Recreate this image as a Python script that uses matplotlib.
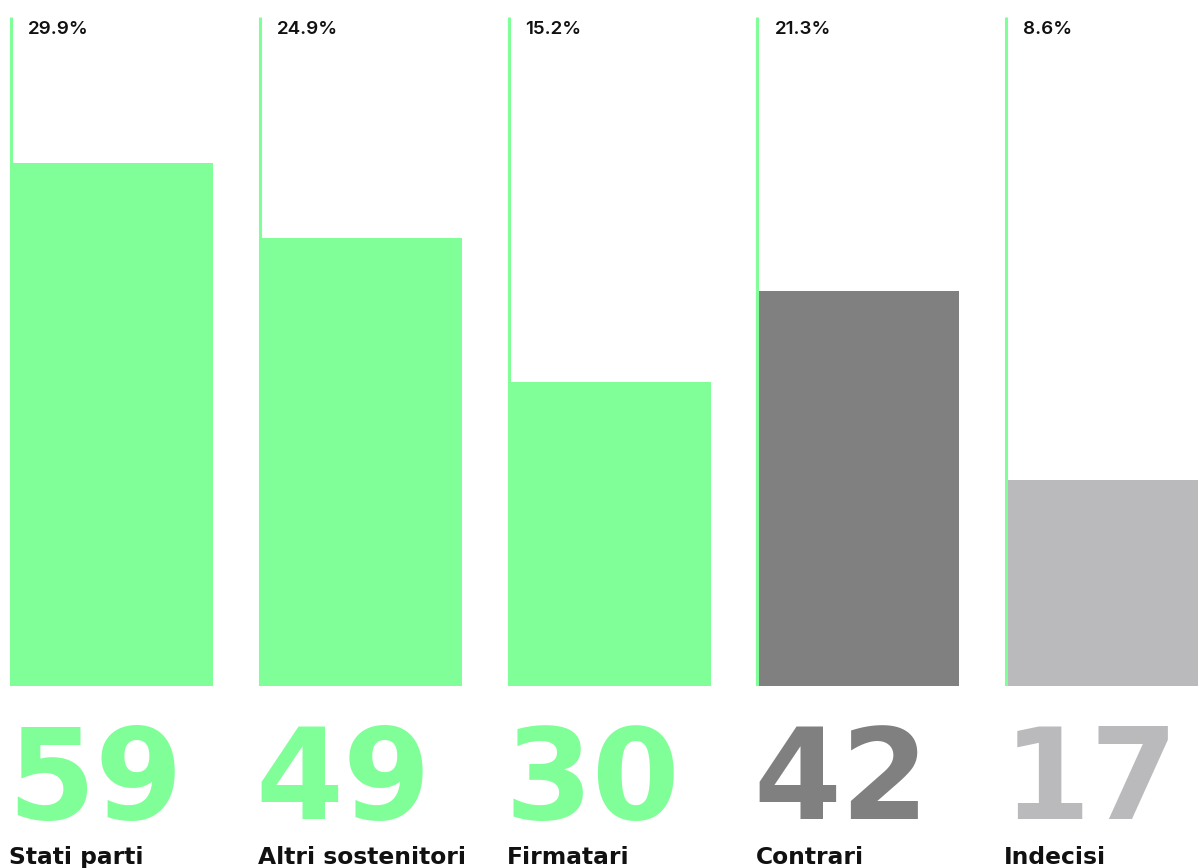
import matplotlib
matplotlib.use("Agg")
import matplotlib.pyplot as plt
import matplotlib.transforms as mtransforms
import numpy as np

# data
categories = ["Stati parti", "Altri sostenitori", "Firmatari", "Contrari", "Indecisi"]
counts = [59, 49, 30, 42, 17]
shares = ["29.9%", "24.9%", "15.2%", "21.3%", "8.6%"]

green = "#80ff98"
colors = [green, green, green, "#808080", "#bab9bc"]

W, H = 1198, 868
fig = plt.figure(figsize=(W / 100, H / 100), dpi=100)

# axes covers the bar area only (pixel rows 17..686)
ax = fig.add_axes([0, (H - 686) / H, 1, 669 / H])
ymin, ymax = -10.33, 78.3
step = 248.8
xs = np.arange(len(categories))
ax.set_xlim(-10 / step, (W - 10) / step)
ax.set_ylim(ymin, ymax)
ax.axis("off")

bw = 203 / step
heights = [c - ymin for c in counts]
ax.bar(xs, heights, width=bw, bottom=ymin, align="edge", color=colors, linewidth=0, zorder=1)

# thin green guide line on the left side of each bar
ax.vlines(xs + 1 / step, ymin, ymax, color=green, linewidth=2.2, zorder=2)

trans = mtransforms.blended_transform_factory(ax.transData, fig.transFigure)
trans_top = mtransforms.blended_transform_factory(ax.transData, ax.transAxes)

for i in range(len(categories)):
    ax.text(xs[i] + 18 / step, 1 - 12 / 669, shares[i], transform=trans_top,
            ha="left", va="center", fontsize=13.5, fontweight="semibold", family="Inter", color="#111111")
    ax.text(xs[i] - 3 / step, 1 - 819 / H, str(counts[i]), transform=trans,
            ha="left", va="baseline", fontsize=91, fontweight="bold", family="DejaVu Sans", color=colors[i])
    ax.text(xs[i] - 1 / step, 1 - 864 / H, categories[i], transform=trans,
            ha="left", va="baseline", fontsize=16.8, fontweight="bold", family="DejaVu Sans", color="#111111")

fig.savefig("out.png", dpi=100)
